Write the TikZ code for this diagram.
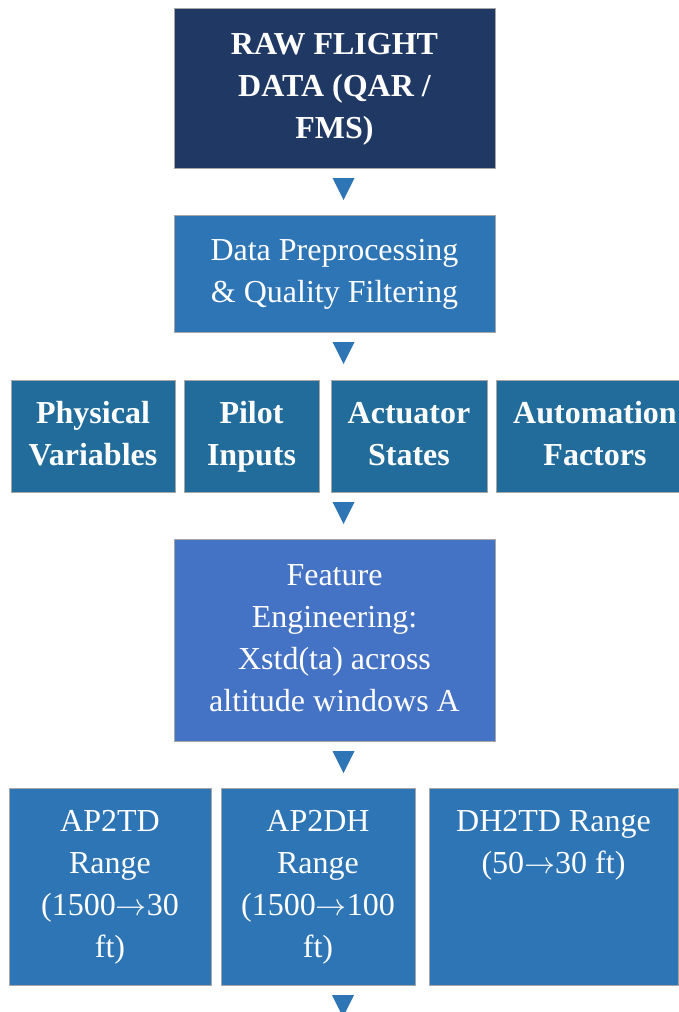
\documentclass[tikz,border=0pt]{standalone}
\usepackage{graphicx}
\usepackage{fontspec}
\setmainfont{Liberation Serif}
\usetikzlibrary{calc}

\definecolor{navy}{HTML}{203864}
\definecolor{midblue}{HTML}{2E75B6}
\definecolor{tealblue}{HTML}{216C9B}
\definecolor{softblue}{HTML}{4472C4}
\definecolor{edgegray}{HTML}{A6A6A6}

% downward pointing marker between stages
\newcommand\downtip[1]{\fill[tipfill] #1 -- ++(22,0) -- ++(-11,22) -- cycle;}
% long thin arrow used inside the range labels
\newcommand\rngto{\resizebox{31pt}{!}{$\rightarrow$}}

\begin{document}
\begin{tikzpicture}[x=1pt,y=-1pt,
  box/.style={rectangle, draw=edgegray, line width=0.8pt, inner sep=0pt,
    outer sep=0pt, text=white, align=center,
    font=\fontsize{32}{42}\selectfont},
  boldbox/.style={box, font=\fontsize{32}{42}\selectfont\bfseries},
  tipfill/.style={fill=midblue}]

\useasboundingbox (0,0) rectangle (679,1012);

% stage 1: raw data
\node[boldbox, fill=navy, minimum width=321pt, minimum height=160pt]
  (raw) at (334.5,88) {\strut RAW FLIGHT\\\strut DATA (QAR /\\\strut FMS)};

% stage 2: preprocessing
\node[box, fill=midblue, minimum width=321pt, minimum height=117pt]
  (prep) at (334.5,273.5) {\strut Data Preprocessing\\\strut \& Quality Filtering};

% stage 3: variable groups
\node[boldbox, fill=tealblue, minimum width=164pt, minimum height=112pt]
  (phys) at (93,436) {\strut Physical\\\strut Variables};
\node[boldbox, fill=tealblue, minimum width=135pt, minimum height=112pt]
  (pilot) at (251.5,436) {\strut Pilot\\\strut Inputs};
\node[boldbox, fill=tealblue, minimum width=156pt, minimum height=112pt]
  (act) at (409,436) {\strut Actuator\\\strut States};
\node[boldbox, fill=tealblue, minimum width=198pt, minimum height=112pt]
  (auto) at (595,436) {\strut Automation\\\strut Factors};

% stage 4: feature engineering
\node[box, fill=softblue, minimum width=321pt, minimum height=202pt]
  (feat) at (334.5,640) {\strut Feature\\\strut Engineering:\\\strut Xstd(ta) across\\\strut altitude windows A};

% stage 5: altitude ranges
\node[box, fill=midblue, minimum width=202pt, minimum height=197pt]
  (aptd) at (110,886.5) {\strut AP2TD\\\strut Range\\\strut (1500\rngto30\\\strut ft)};
\node[box, fill=midblue, minimum width=194pt, minimum height=197pt]
  (apdh) at (318,886.5) {\strut AP2DH\\\strut Range\\\strut (1500\rngto100\\\strut ft)};
\node[box, fill=midblue, minimum width=249pt, minimum height=197pt]
  (dhtd) at (553.5,886.5) {\strut DH2TD Range\\\strut (50\rngto30 ft)\\\strut\\\strut};

% flow markers
\downtip{($(raw.south)+(-2,10)$)}
\downtip{($(prep.south)+(-2,10)$)}
\downtip{($(feat.north)+(-2,-37)$)}
\downtip{($(feat.south)+(-2,10)$)}
\downtip{($(apdh.south)+(14,10)$)}
\end{tikzpicture}
\end{document}
